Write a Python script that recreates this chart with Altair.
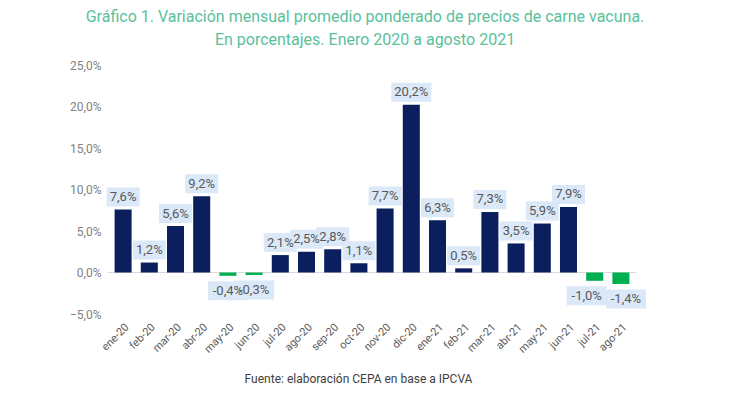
import altair as alt
import pandas as pd

months = ["ene-20", "feb-20", "mar-20", "abr-20", "may-20", "jun-20", "jul-20",
          "ago-20", "sep-20", "oct-20", "nov-20", "dic-20", "ene-21", "feb-21",
          "mar-21", "abr-21", "may-21", "jun-21", "jul-21", "ago-21"]
values = [7.6, 1.2, 5.6, 9.2, -0.4, -0.3, 2.1, 2.5, 2.8, 1.1, 7.7, 20.2,
          6.3, 0.5, 7.3, 3.5, 5.9, 7.9, -1.0, -1.4]
y_ticks = [-5, 0, 5, 10, 15, 20, 25]

NAVY = "#0b1f5f"
GREEN = "#00b050"
BOX = "#dae8f8"
TITLE_C = "#5bbf9b"

df = pd.DataFrame({"mes": months, "v": values})
df["label"] = [f"{v:.1f}".replace(".", ",") + "%" for v in values]

x = alt.X("mes:N", sort=months,
          scale=alt.Scale(paddingInner=0.35, paddingOuter=0.175),
          axis=alt.Axis(title="Fuente: elaboración CEPA en base a IPCVA",
                        titleFont="Roboto", titleFontSize=12, titleFontWeight="normal",
                        titleColor="#404040", titleX=248, titleY=64,
                        titleBaseline="middle", titleAlign="center",
                        labelAngle=-45, labelFont="Roboto", labelFontSize=11,
                        labelColor="#595959", labelPadding=7,
                        domain=False, ticks=False, grid=False))
y = alt.Y("v:Q", scale=alt.Scale(domain=[-5, 25], nice=False),
          axis=alt.Axis(title=None, values=y_ticks,
                        labelExpr="replace(format(datum.value, '.1f'), '.', ',') + '%'",
                        labelFont="Roboto", labelFontSize=12, labelColor="#7f7f7f",
                        labelPadding=9, domain=False, ticks=False, grid=False))

base = alt.Chart(df)

bars = base.mark_bar().encode(
    x=x, y=y,
    color=alt.condition("datum.v < 0", alt.value(GREEN), alt.value(NAVY)),
)

zero = alt.Chart(pd.DataFrame({"z": [0]})).mark_rule(color="#d9d9d9", strokeWidth=1).encode(
    y="z:Q", x=alt.value(-2), x2=alt.value(526)
)

layers = [zero, bars]
groups = [
    ("datum.v >= 0", -12.5, 0),
    ("datum.v < 0 && datum.mes != 'jul-21' && datum.mes != 'ago-21'", 15, 0),
    ("datum.mes == 'jul-21'", 15, -8),
    ("datum.mes == 'ago-21'", 15, 5),
]
for cond, off, xoff in groups:
    for w, lencond in [(33, "length(datum.label) <= 4"), (40, "length(datum.label) > 4")]:
        h = 19 / w
        path = f"M-1,-{h:.3f}L1,-{h:.3f}L1,{h:.3f}L-1,{h:.3f}Z"
        layers.append(
            base.transform_filter(f"({cond}) && ({lencond})").mark_point(
                shape=path, size=w * w, filled=True, color=BOX, opacity=1,
                strokeWidth=0, yOffset=off, xOffset=xoff
            ).encode(x=x, y=y)
        )
    layers.append(
        base.transform_filter(cond).mark_text(
            font="Roboto", fontSize=13, color="#595959", baseline="middle",
            align="center", yOffset=off, xOffset=xoff
        ).encode(x=x, y=y, text="label:N")
    )

chart = alt.layer(*layers).properties(
    width=524, height=249,
    padding={"left": 102, "top": 57, "right": 88, "bottom": 71},
    autosize=alt.AutoSizeParams(type="none"),
    background="white",
    title=alt.Title(
        ["Gráfico 1. Variación mensual promedio ponderado de precios de carne vacuna.",
         "En porcentajes. Enero 2020 a agosto 2021"],
        font="Roboto", fontSize=16, fontWeight="normal", color=TITLE_C,
        anchor="middle", offset=11, dx=-7, lineHeight=23
    ),
).configure_view(strokeWidth=0, stroke="transparent")

chart.save("out.html", embed_options={"renderer": "svg", "actions": False})
